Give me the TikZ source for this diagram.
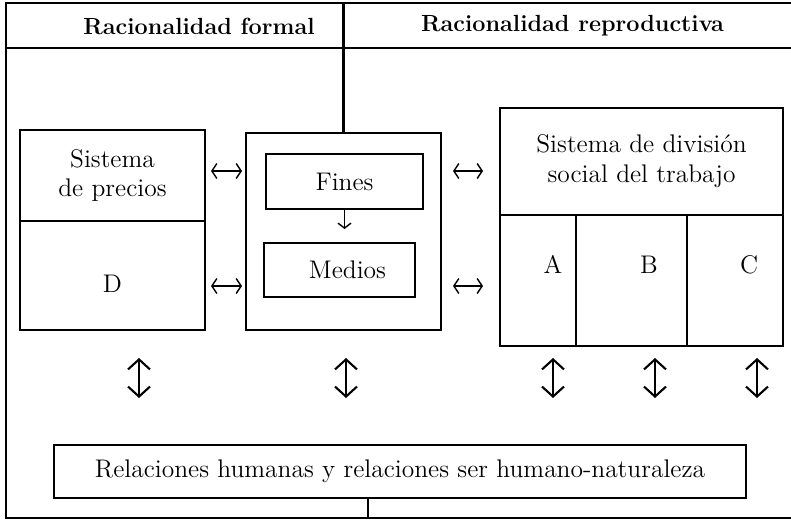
\documentclass[tikz,border=0pt]{standalone}
\usepackage{amsmath}
\usepackage{amssymb}
\usepackage{tikz}
\usetikzlibrary{arrows.meta,positioning}

\begin{document}
\begin{tikzpicture}[line width=1.6pt,font=\fontsize{14.5}{17}\selectfont,
                    box node/.style={rectangle,draw,outer sep=0pt,inner sep=0pt,align=center},
                    head node/.style={font=\fontsize{13.3}{16}\selectfont\bfseries},
                    lr/.style={line width=0.8pt,{Straight Barb[length=1mm,width=3mm]}-{Straight Barb[length=1mm,width=3mm]}},
                    down/.style={line width=0.8pt,-{Straight Barb[length=1mm,width=2.6mm]}},
                    ud/.style={line width=1.2pt,{Straight Barb[length=2mm,width=4.4mm]}-{Straight Barb[length=2mm,width=4.4mm]}}]
\useasboundingbox (0,0) rectangle (15.82,-10.4);

% frame and header
\coordinate (tl) at (0.12,-0.06);
\coordinate (bl) at (0.12,-10.36);
\draw (15.82,-0.06) -- (tl) -- (bl) -- (15.82,-10.36);
\draw (0.12,-0.96) -- (15.82,-0.96);
\node[head node] (formal) at (3.98,-0.52) {Racionalidad formal};
\node[head node] (repro) at (11.45,-0.52) {Racionalidad reproductiva};

\node[box node,minimum width=3.7cm,minimum height=1.82cm] (precios) at (2.25,-3.51) {Sistema\\de precios};
\node[box node,minimum width=3.7cm,minimum height=2.18cm,below=0pt of precios,
      label={[yshift=-0.16cm]center:D}] (d) {};

\node[box node,minimum width=3.9cm,minimum height=3.94cm] (mid) at (6.87,-4.63) {};
\node[box node,minimum width=3.14cm,minimum height=1.1cm] (fines) at (6.89,-3.63) {Fines};
\node[box node,minimum width=3.02cm,minimum height=1.08cm,below=0.68cm of fines,xshift=-0.1cm,
      label={[xshift=0.16cm]center:Medios}] (medios) {};

\node[box node,minimum width=5.66cm,minimum height=2.14cm] (division) at (12.83,-3.23) {Sistema de división\\social del trabajo};
\node[box node,minimum width=1.52cm,minimum height=2.62cm,below right=0pt and 0pt of division.south west,
      label={[xshift=0.3cm,yshift=0.32cm]center:A}] (a) {};
\node[box node,minimum width=2.22cm,minimum height=2.62cm,right=0pt of a,
      label={[xshift=0.35cm,yshift=0.32cm]center:B}] (b) {};
\node[box node,minimum width=1.92cm,minimum height=2.62cm,right=0pt of b,
      label={[xshift=0.28cm,yshift=0.32cm]center:C}] (c) {};

\node[box node,minimum width=13.84cm,minimum height=1.06cm] (rel) at (8.0,-9.43) {Relaciones humanas y relaciones ser humano-naturaleza};

% lines to the frame
\draw (mid.north) -- (mid.north |- tl);
\draw ([xshift=-0.64cm]rel.south) -- ([xshift=-0.64cm]rel.south |- bl);

% arrows
\draw[down,shorten >=0.28cm] (fines.south) -- (fines.south |- medios.north);
\draw[lr,shorten <=0.12cm,shorten >=0.08cm] ([yshift=0.09cm]precios.east) -- ([yshift=0.09cm]precios.east -| mid.west);
\draw[lr,shorten <=0.12cm,shorten >=0.08cm] ([yshift=-0.21cm]d.east) -- ([yshift=-0.21cm]d.east -| mid.west);
\draw[lr,shorten <=0.24cm,shorten >=0.34cm] ([yshift=0.09cm]precios.east -| mid.east) -- ([yshift=0.09cm]precios.east -| division.west);
\draw[lr,shorten <=0.24cm,shorten >=0.34cm] ([yshift=-0.21cm]d.east -| mid.east) -- ([yshift=-0.21cm]d.east -| division.west);

\draw[ud,shorten <=0.56cm,shorten >=0.94cm] ([xshift=0.53cm]d.south) -- ([xshift=0.53cm]d.south |- rel.north);
\draw[ud,shorten <=0.56cm,shorten >=0.94cm] ([xshift=0.05cm]mid.south) -- ([xshift=0.05cm]mid.south |- rel.north);
\draw[ud,shorten <=0.24cm,shorten >=0.94cm] ([xshift=0.3cm]a.south) -- ([xshift=0.3cm]a.south |- rel.north);
\draw[ud,shorten <=0.24cm,shorten >=0.94cm] ([xshift=0.47cm]b.south) -- ([xshift=0.47cm]b.south |- rel.north);
\draw[ud,shorten <=0.24cm,shorten >=0.94cm] ([xshift=0.44cm]c.south) -- ([xshift=0.44cm]c.south |- rel.north);
\end{tikzpicture}
\end{document}
